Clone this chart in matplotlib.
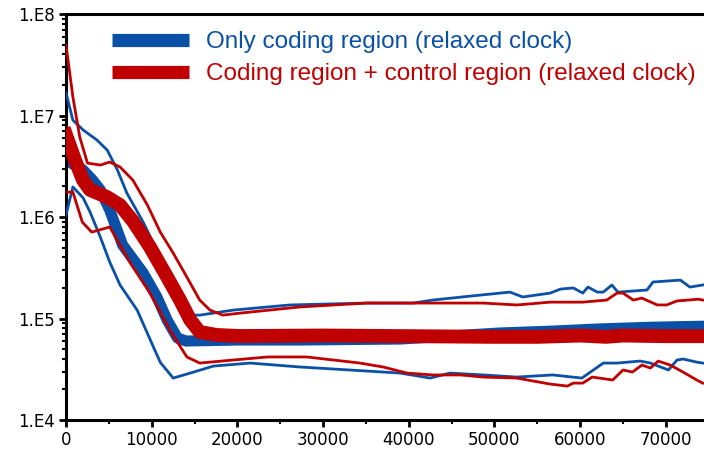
import numpy as np
import matplotlib
matplotlib.use("Agg")
import matplotlib.pyplot as plt
from matplotlib.ticker import FixedLocator, MultipleLocator, LogLocator, NullFormatter

# Datos (x = generaciones / pasos, y = valor en escala log)
# Solo region codificante (reloj relajado)
x_cod_med = [0, 2000, 3100, 4000, 5100, 6600, 9000, 10600, 11800, 13000, 14000,
             20000, 27300, 39000, 44800, 50600, 56500, 62300, 68200, 74500]
y_cod_med = [3.64e6, 2.9e6, 2.31e6, 1.85e6, 1.17e6, 5.3e5, 2.81e5, 1.63e5, 9.66e4,
             6.43e4, 6.0e4, 6.14e4, 6.14e4, 6.28e4, 6.72e4, 7.2e4, 7.5e4, 7.9e4,
             8.2e4, 8.4e4]

x_cod_sup = [0, 800, 2000, 3600, 4800, 6000, 7100, 9000, 10600, 12100, 13700, 14500,
             15600, 19500, 26100, 35100, 40500, 42800, 48300, 51800, 53300, 56500,
             57700, 59200, 60300, 60900, 62000, 62700, 63700, 64400, 67800, 68500,
             71700, 72800, 74300]
y_cod_sup = [1.67e7, 9.0e6, 7.2e6, 5.74e6, 4.57e6, 2.9e6, 1.72e6, 8.9e5, 4.7e5,
             2.56e5, 1.21e5, 1.08e5, 1.08e5, 1.21e5, 1.36e5, 1.42e5, 1.42e5, 1.52e5,
             1.70e5, 1.82e5, 1.63e5, 1.78e5, 1.95e5, 2.0e5, 1.78e5, 2.04e5, 1.82e5,
             1.82e5, 2.14e5, 1.82e5, 1.91e5, 2.29e5, 2.39e5, 2.04e5, 2.14e5]

x_cod_inf = [0, 800, 2000, 2800, 4000, 5100, 6300, 8300, 10200, 11000, 12500, 14500,
             17200, 21500, 27300, 33100, 39000, 42500, 44800, 48700, 52600, 56800,
             60200, 61200, 62700, 64300, 67000, 68200, 70300, 71300, 72000, 73600,
             74300]
y_cod_inf = [1.05e6, 1.98e6, 1.54e6, 1.12e6, 6.35e5, 3.6e5, 2.14e5, 1.21e5, 5.24e4,
             3.7e4, 2.59e4, 2.9e4, 3.4e4, 3.64e4, 3.33e4, 3.11e4, 2.9e4, 2.59e4,
             2.9e4, 2.78e4, 2.65e4, 2.78e4, 2.59e4, 2.97e4, 3.64e4, 3.64e4, 3.81e4,
             3.64e4, 3.11e4, 3.9e4, 3.99e4, 3.72e4, 3.64e4]

# Region codificante + region control (reloj relajado)
x_ctl_med = [0, 1050, 1980, 2800, 4800, 6300, 7800, 9800, 11800, 13300, 14500, 15600,
             17600, 20300, 30000, 40000, 50000, 55000, 60000, 63000, 65000, 70000,
             74500]
y_ctl_med = [6.43e6, 3.64e6, 2.31e6, 1.85e6, 1.57e6, 1.31e6, 9.13e5, 5.06e5, 2.56e5,
             1.52e5, 9.66e4, 7.36e4, 6.88e4, 6.72e4, 6.8e4, 6.7e4, 6.6e4, 6.6e4,
             6.8e4, 6.6e4, 6.8e4, 6.7e4, 6.7e4]

x_ctl_sup = [0, 800, 1600, 2500, 4000, 5100, 6300, 7800, 9500, 11000, 12500, 14100,
             15600, 16800, 18300, 20300, 27300, 35100, 42800, 48700, 52600, 56500,
             60300, 63100, 64300, 65000, 66200, 67200, 69000, 70100, 71300, 73800,
             74300]
y_ctl_sup = [4.95e7, 1.52e7, 6.14e6, 3.4e6, 3.25e6, 3.48e6, 3.11e6, 2.31e6, 1.31e6,
             7.1e5, 4.42e5, 2.56e5, 1.52e5, 1.21e5, 1.08e5, 1.13e5, 1.30e5, 1.42e5,
             1.42e5, 1.42e5, 1.36e5, 1.45e5, 1.45e5, 1.52e5, 1.78e5, 1.78e5, 1.52e5,
             1.59e5, 1.36e5, 1.36e5, 1.49e5, 1.55e5, 1.52e5]

x_ctl_inf = [0, 800, 1900, 3000, 5100, 7500, 9800, 12100, 14100, 15600, 19500, 23500,
             28100, 31200, 34300, 37000, 39800, 42800, 46000, 48700, 52600, 56500,
             58500, 59200, 60300, 61400, 63800, 65000, 66100, 67200, 68200, 69100,
             70500, 72000, 73600, 74300]
y_ctl_inf = [1.76e6, 1.76e6, 8.9e5, 7.1e5, 7.97e5, 3.52e5, 1.78e5, 7.7e4, 4.18e4,
             3.64e4, 3.9e4, 4.18e4, 4.18e4, 3.9e4, 3.64e4, 3.33e4, 2.9e4, 2.78e4,
             2.78e4, 2.65e4, 2.59e4, 2.26e4, 2.16e4, 2.31e4, 2.31e4, 2.65e4, 2.48e4,
             3.11e4, 2.97e4, 3.48e4, 3.25e4, 3.81e4, 3.48e4, 2.97e4, 2.48e4, 2.31e4]

etiquetas = ["Only coding region (relaxed clock)",
             "Coding region + control region (relaxed clock)"]
y_ticks = [1e4, 1e5, 1e6, 1e7, 1e8]
y_labels = ["1.E4", "1.E5", "1.E6", "1.E7", "1.E8"]

azul = "#0a50a6"
rojo = "#c00000"

fig = plt.figure(figsize=(7.04, 4.53), dpi=100)
ax = fig.add_axes([0.0938, 0.0728, 0.9062, 0.8963])

l1, = ax.plot(x_cod_med, y_cod_med, color=azul, lw=8, solid_joinstyle="round", zorder=2)
ax.plot(x_cod_sup, y_cod_sup, color=azul, lw=2, zorder=3)
ax.plot(x_cod_inf, y_cod_inf, color=azul, lw=2, zorder=3)
l2, = ax.plot(x_ctl_med, y_ctl_med, color=rojo, lw=10, solid_joinstyle="round", zorder=4)
ax.plot(x_ctl_sup, y_ctl_sup, color=rojo, lw=2, zorder=5)
ax.plot(x_ctl_inf, y_ctl_inf, color=rojo, lw=2, zorder=5)

ax.set_yscale("log")
ax.set_ylim(1e4, 1e8)
ax.set_xlim(0, 74450)

ax.yaxis.set_major_locator(FixedLocator(y_ticks))
ax.set_yticklabels(y_labels)
ax.yaxis.set_minor_locator(LogLocator(base=10, subs=np.arange(2, 10)))
ax.yaxis.set_minor_formatter(NullFormatter())
ax.xaxis.set_major_locator(MultipleLocator(10000))
ax.xaxis.set_minor_locator(MultipleLocator(5000))

ax.tick_params(which="major", direction="out", length=5, width=2, labelsize=12, pad=3)
ax.tick_params(which="minor", direction="out", length=3, width=1.5)
for lab in ax.get_xticklabels() + ax.get_yticklabels():
    lab.set_family("DejaVu Sans")

for s in ["left", "bottom", "top"]:
    ax.spines[s].set_linewidth(2.2)
ax.spines["right"].set_visible(False)

leg = ax.legend([l1, l2], etiquetas, loc="upper left", bbox_to_anchor=(0.072, 0.958),
                frameon=False, borderpad=0, borderaxespad=0, handlelength=3.15,
                handletextpad=0.7, labelspacing=0.42,
                prop={"family": "Liberation Sans", "size": 17.5})
for linea, texto, c in zip(leg.get_lines(), leg.get_texts(), [azul, rojo]):
    linea.set_linewidth(9.5)
    linea.set_solid_capstyle("butt")
    texto.set_color(c)

plt.savefig("out.png", dpi=100)
